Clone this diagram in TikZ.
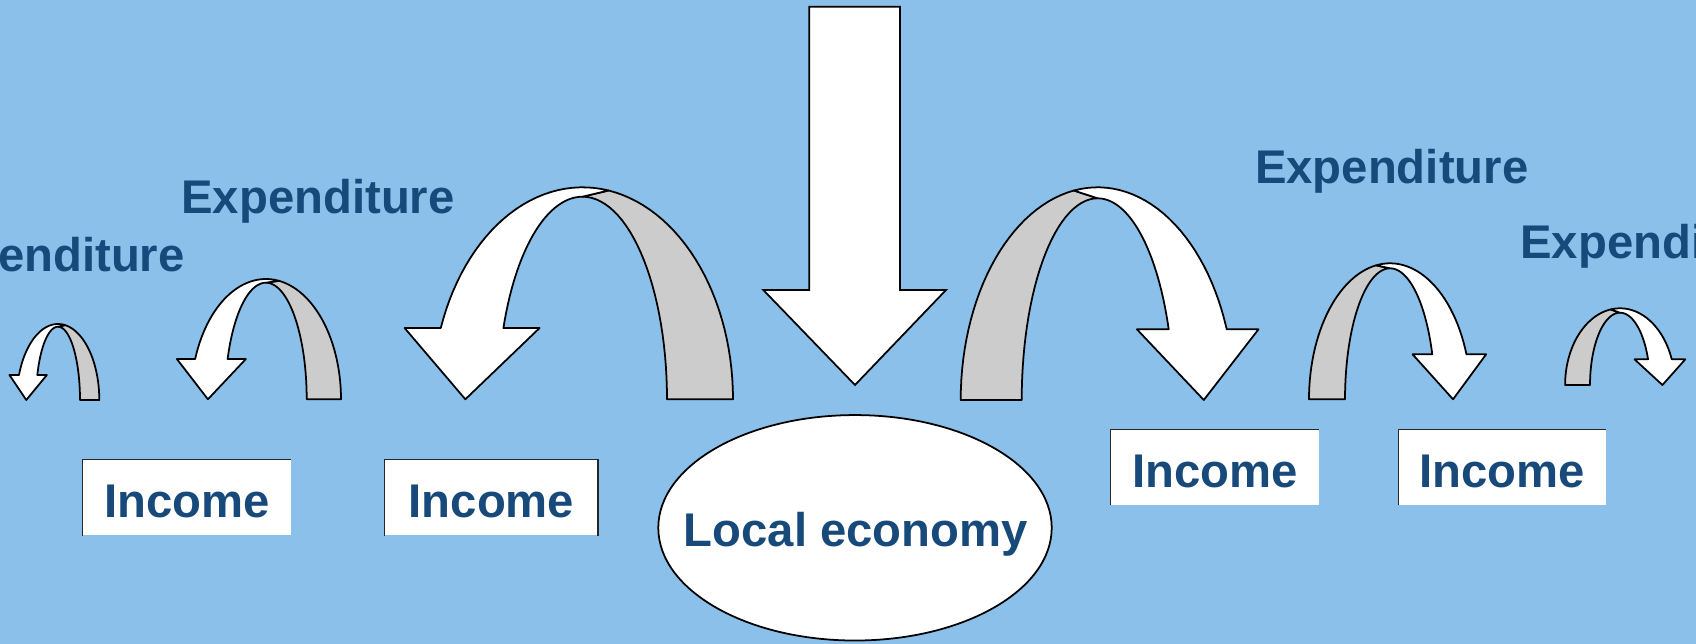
\documentclass[tikz,border=0pt]{standalone}
\usepackage{fontspec}
\setmainfont{Liberation Sans}
\usepackage{tikz}
\usetikzlibrary{shapes.geometric}
\definecolor{bgblue}{RGB}{138, 192, 234}
\definecolor{textblue}{RGB}{23, 73, 122}
\definecolor{ribbongrey}{RGB}{204, 204, 204}

\tikzset{
  labeltext/.style={font=\fontsize{26.9}{32}\selectfont\bfseries, text=textblue, inner sep=0pt},
  incomebox/.style={labeltext, fill=white, minimum height=1.514cm, text height=0.8cm, text depth=0pt},
  boxedge/.style={draw=black!85, line width=0.6pt},
  economy/.style={ellipse, draw=black, line width=1pt, fill=white, minimum width=7.87cm, minimum height=4.51cm, inner sep=0pt},
  ribbonfront/.style={draw=black, line width=1pt, fill=white, line join=round},
  ribbonback/.style={draw=black, line width=1pt, fill=ribbongrey, line join=round}
}

% #1 cx, #2 foot y, #3/#4 outer radii, #5/#6 inner radii, #7 head base y, #8 head half width, #9 side (1 left, -1 right)
\newcommand{\ribbonarrow}[9]{%
\begin{scope}[shift={(#1,#2)}, xscale=#9]
  \pgfmathsetmacro{\ao}{180-asin((#2-#7)/#4)}
  \pgfmathsetmacro{\ai}{180-asin((#2-#7)/#6)}
  \pgfmathsetmacro{\hc}{(#3*cos(\ao)+#5*cos(\ai))/2}
  \pgfmathsetmacro{\hh}{#7-#2}
  % back of the ribbon
  \draw[ribbonback] plot[domain=80:0, samples=30] ({#3*cos(\x)}, {-#4*sin(\x)})
    -- (#5,0) -- plot[domain=0:90, samples=30] ({#5*cos(\x)}, {-#6*sin(\x)}) -- cycle;
  % front of the ribbon with head
  \draw[ribbonfront] plot[domain=\ao:80, samples=30] ({#3*cos(\x)}, {-#4*sin(\x)})
    -- (0,-#6) -- plot[domain=90:\ai, samples=30] ({#5*cos(\x)}, {-#6*sin(\x)})
    -- (\hc+#8,\hh) -- (\hc-0.1*#8,0) -- (\hc-#8,\hh) -- cycle;
\end{scope}}

\begin{document}
\begin{tikzpicture}[x=0.02cm, y=-0.02cm]
\useasboundingbox (0,0) rectangle (1696,644);
\fill[bgblue] (0,0) rectangle (1696,644);

% curved arrows
\ribbonarrow{58}{400}{41.3}{76}{22}{73.3}{375}{18.7}{1}
\ribbonarrow{265.9}{399.3}{75.1}{120.3}{40.8}{116.6}{359}{34.5}{1}
\ribbonarrow{582.5}{399.3}{150.5}{212}{84.5}{202.6}{328}{67.5}{1}
\ribbonarrow{1097.6}{400}{136.9}{212.7}{75.9}{201.7}{329.3}{60.8}{-1}
\ribbonarrow{1390}{399.3}{81}{136}{45}{131}{354.3}{36.8}{-1}
\ribbonarrow{1620}{385}{54.9}{76.7}{30}{72.3}{359.3}{25.4}{-1}

% injection
\draw[ribbonfront, line join=miter] (809.3,6.7) -- (900,6.7) -- (900,290) -- (946,290)
  -- (855,385) -- (763.3,290) -- (809.3,290) -- cycle;

% local economy
\node[economy] (eco) at (855,527.8) {};
\node[labeltext, anchor=base] (ecotext) at (855.8,546) {Local economy};

% income boxes
\node[incomebox, minimum width=4.16cm] (inc1) at (187,497.5) {Income};
\node[incomebox, minimum width=4.26cm] (inc2) at (491.5,497.5) {Income};
\node[incomebox, minimum width=4.15cm] (inc3) at (1215,467.3) {Income};
\node[incomebox, minimum width=4.14cm] (inc4) at (1502,467.3) {Income};
\draw[boxedge] (inc1.south west) -- (inc1.north west) -- (inc1.north east);
\draw[boxedge] (inc2.south west) -- (inc2.north west) -- (inc2.north east);
\draw[boxedge, line width=1pt] (inc2.north east) -- (inc2.south east);
\draw[boxedge] (inc3.south west) -- (inc3.north west) -- (inc3.north east);
\draw[boxedge] (inc4.south west) -- (inc4.north west) -- (inc4.north east);

% expenditure labels
\node[labeltext, anchor=base] (exp1) at (48,271.7) {Expenditure};
\node[labeltext, anchor=base] (exp2) at (318,214) {Expenditure};
\node[labeltext, anchor=base] (exp3) at (1391.7,183.3) {Expenditure};
\node[labeltext, anchor=base] (exp4) at (1657,258.3) {Expenditure};
\end{tikzpicture}
\end{document}
